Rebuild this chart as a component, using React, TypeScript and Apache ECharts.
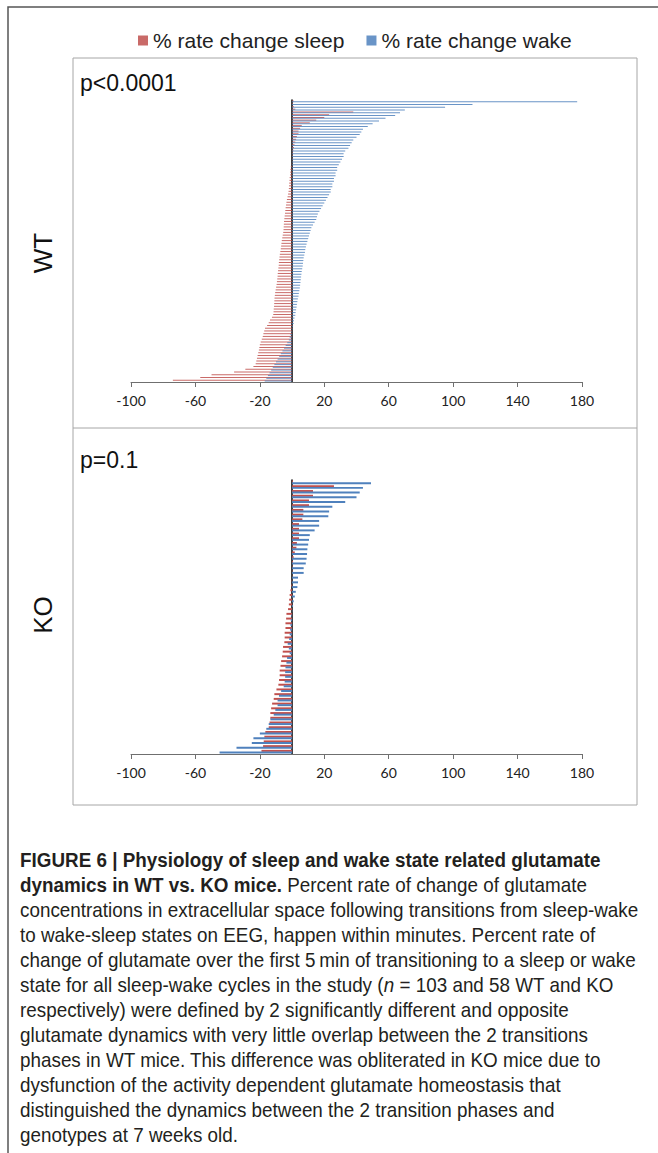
import React, { useEffect, useRef } from "react";
import * as echarts from "echarts";

// ---- data ----
const seriesNames = ["% rate change sleep", "% rate change wake"];
const xTicks = [-100, -60, -20, 20, 60, 100, 140, 180];

const wtSleep = [
  1, 0.5, 1, 2, 38, 23, 20, 15, 11, 6,
  5, 4, 4, 3, 2.5, 2, 1.5, 1.2, 0.8, 0.6,
  0.4, 0.3, 0.2, -0.3, -0.8, -1, -1.2, -1.3, -1.5, -1.6,
  -1.8, -1.9, -2, -2.2, -2.5, -2.8, -3.2, -3.5, -3.8, -4,
  -4.2, -4.4, -4.6, -4.8, -5, -5.1, -5.2, -5.3, -5.5, -5.8,
  -6.1, -6.4, -6.6, -6.8, -7, -7.3, -7.6, -7.8, -8, -8.2,
  -8.3, -8.5, -8.7, -8.9, -9, -9.2, -9.4, -9.6, -9.9, -10.2,
  -10.5, -10.7, -10.9, -11, -11.1, -11.2, -11.4, -11.5, -11.7, -12.5,
  -13.7, -14.5, -15.5, -16.8, -17.3, -17.8, -18.2, -18.8, -19.5, -20,
  -20.3, -20.6, -21, -21.4, -21.8, -22.2, -22.6, -24, -29, -36,
  -50, -57, -74,
];
const wtWake = [
  177, 112, 95, 70, 67, 64, 58, 54, 50, 47,
  44, 43, 42, 40, 38, 37, 36, 35, 33, 32,
  32, 31, 30, 29, 28, 28, 27, 27, 26, 26,
  25, 25, 24, 24, 23, 22, 21, 20, 19, 18,
  17, 16, 15.5, 15, 14, 13, 12, 11.5, 11, 10.5,
  10, 9.5, 9, 8.6, 8.2, 8, 7.6, 7.2, 7, 6.8,
  6.6, 6.3, 6, 5.8, 5.6, 5.4, 5.2, 5, 4.8, 4.5,
  4.2, 4, 3.6, 3.3, 3, 2.8, 2.5, 2.2, 2, 1.5,
  1.2, 1, 0.6, 0.4, -0.5, -1, -1.5, -2, -3, -4,
  -5, -6, -7, -8, -9, -10, -11, -12, -13, -14,
  -15, -16, -17,
];
const koSleep = [
  0.5, 26, 13, 13, 10.5, 10.5, 7, 7, 6.4, 4.3,
  4.3, 4.3, 4.3, 3, 2.7, 1.7, 1, 0.6, 0.3, 0.2,
  0.1, -0.2, -0.5, -1, -1.5, -1.8, -2, -2.5, -3.5, -3.7,
  -4.1, -4.1, -4.6, -4.6, -4.8, -5.6, -5.8, -6.2, -6.8, -7.2,
  -7.7, -7.7, -8.1, -8.5, -9.7, -11, -11.4, -12.4, -13, -13.5,
  -13.5, -14, -14.5, -16.6, -17.2, -17.6, -18, -19,
];
const koWake = [
  49, 44, 42, 40, 33, 25, 23, 22.5, 16.8, 16.8,
  14, 11, 10.5, 10, 9.5, 9.3, 9, 8.5, 7.2, 7.2,
  3.7, 3.7, 3.3, 2.3, 1.7, 1, 0.6, 0.2, -0.5, -0.8,
  -1, -1.2, -1.5, -1.8, -2.7, -2, -1.5, -3.1, -3.5, -4.1,
  -4.3, -4.3, -4.6, -5.2, -6.8, -8.1, -9, -9, -10.4, -11.4,
  -13.5, -14.5, -16, -20, -24, -25, -34.5, -45,
];
const wtCategories = wtSleep.map((_, i) => "WT " + (i + 1));
const koCategories = koSleep.map((_, i) => "KO " + (i + 1));

const panelLabels = ["WT", "KO"];
const pValues = ["p<0.0001", "p=0.1"];

const captionLines: { t: string; s: string }[][] = [
  [{ t: "FIGURE 6 | Physiology of sleep and wake state related glutamate", s: "b" }],
  [
    { t: "dynamics in WT vs. KO mice.", s: "b" },
    { t: " Percent rate of change of glutamate", s: "r" },
  ],
  [{ t: "concentrations in extracellular space following transitions from sleep-wake", s: "r" }],
  [{ t: "to wake-sleep states on EEG, happen within minutes. Percent rate of", s: "r" }],
  [{ t: "change of glutamate over the first 5\u2009min of transitioning to a sleep or wake", s: "r" }],
  [
    { t: "state for all sleep-wake cycles in the study (", s: "r" },
    { t: "n", s: "i" },
    { t: " = 103 and 58 WT and KO", s: "r" },
  ],
  [{ t: "respectively) were defined by 2 significantly different and opposite", s: "r" }],
  [{ t: "glutamate dynamics with very little overlap between the 2 transitions", s: "r" }],
  [{ t: "phases in WT mice. This difference was obliterated in KO mice due to", s: "r" }],
  [{ t: "dysfunction of the activity dependent glutamate homeostasis that", s: "r" }],
  [{ t: "distinguished the dynamics between the 2 transition phases and", s: "r" }],
  [{ t: "genotypes at 7 weeks old.", s: "r" }],
];

const RED = "#C0504D";
const BLUE = "#4F81BD";
const SANS = "'Liberation Sans', Arial, sans-serif";
const TICKFONT = "Lato, 'Liberation Sans', sans-serif";

export default function App() {
  const ref = useRef<HTMLDivElement>(null);

  useEffect(() => {
    if (!ref.current) return;
    const chart = echarts.init(ref.current, null, { renderer: "svg" });

    const xAxisBase = (gridIndex: number) => ({
      type: "value" as const,
      gridIndex,
      min: -100,
      max: 180,
      interval: 40,
      axisLine: { show: true, onZero: false, lineStyle: { color: "#6f6f6f", width: 1 } },
      axisTick: { show: true, length: 5, lineStyle: { color: "#6f6f6f" } },
      splitLine: { show: false },
      axisLabel: {
        fontFamily: TICKFONT,
        fontSize: 14,
        color: "#222",
        margin: 11,
        formatter: (v: number) => (xTicks.includes(v) ? String(v) : ""),
      },
    });
    const yAxisBase = (gridIndex: number, data: string[]) => ({
      type: "category" as const,
      gridIndex,
      inverse: true,
      data,
      axisLine: { show: true, onZero: true, lineStyle: { color: "#000", width: 1.5 } },
      axisTick: { show: false },
      axisLabel: { show: false },
      splitLine: { show: false },
    });
    const barBase = (gap: string) => ({
      type: "bar" as const,
      barGap: "-20%",
      barCategoryGap: gap,
      silent: true,
    });

    const FS = 20.5;
    const captionRich = {
      b: { fontFamily: SANS, fontSize: FS, fontWeight: "bold", fill: "#231f20" },
      r: { fontFamily: SANS, fontSize: FS, fill: "#231f20" },
      i: { fontFamily: SANS, fontSize: FS, fontStyle: "italic", fill: "#231f20" },
    };

    const captionGraphics = captionLines.map((line, k) => ({
      type: "text",
      x: 20,
      y: 860 + 25 * k,
      scaleX: 0.92,
      style: {
        text: line.map((seg) => `{${seg.s}|${seg.t}}`).join(""),
        rich: captionRich,
        fontFamily: SANS,
        fontSize: FS,
        verticalAlign: "middle",
      },
    }));

    chart.setOption({
      animation: false,
      backgroundColor: "#fff",
      legend: {
        data: seriesNames,
        left: 133,
        top: 25,
        icon: "rect",
        itemWidth: 10,
        itemHeight: 10,
        itemGap: 22,
        textStyle: { fontFamily: SANS, fontSize: 21, color: "#222" },
      },
      grid: [
        { left: 131, width: 451, top: 100, height: 282 },
        { left: 131, width: 451, top: 480, height: 274 },
      ],
      xAxis: [xAxisBase(0), xAxisBase(1)],
      yAxis: [yAxisBase(0, wtCategories), yAxisBase(1, koCategories)],
      series: [
        { ...barBase("40%"), name: seriesNames[0], xAxisIndex: 0, yAxisIndex: 0, data: wtSleep, itemStyle: { color: RED, opacity: 0.85 } },
        { ...barBase("40%"), name: seriesNames[1], xAxisIndex: 0, yAxisIndex: 0, data: wtWake, itemStyle: { color: BLUE, opacity: 0.85 } },
        { ...barBase("25%"), name: seriesNames[0], xAxisIndex: 1, yAxisIndex: 1, data: koSleep, itemStyle: { color: RED } },
        { ...barBase("25%"), name: seriesNames[1], xAxisIndex: 1, yAxisIndex: 1, data: koWake, itemStyle: { color: BLUE } },
      ],
      graphic: [
        {
          type: "rect",
          shape: { x: 8, y: 7, width: 700, height: 1200 },
          style: { fill: "none", stroke: "#555", lineWidth: 1.5 },
          silent: true,
        },
        {
          type: "rect",
          shape: { x: 73, y: 58, width: 564, height: 747 },
          style: { fill: "none", stroke: "#a6a6a6", lineWidth: 1 },
          silent: true,
        },
        {
          type: "line",
          shape: { x1: 73, y1: 428, x2: 637, y2: 428 },
          style: { stroke: "#a6a6a6", lineWidth: 1 },
          silent: true,
        },
        {
          type: "text",
          x: 80,
          y: 83,
          style: { text: pValues[0], fontFamily: SANS, fontSize: 23, fill: "#111", verticalAlign: "middle" },
        },
        {
          type: "text",
          x: 80,
          y: 460,
          style: { text: pValues[1], fontFamily: SANS, fontSize: 23, fill: "#111", verticalAlign: "middle" },
        },
        {
          type: "text",
          x: 43,
          y: 253,
          rotation: Math.PI / 2,
          style: { text: panelLabels[0], fontFamily: SANS, fontSize: 26, fill: "#111", align: "center", verticalAlign: "middle" },
        },
        {
          type: "text",
          x: 43,
          y: 615,
          rotation: Math.PI / 2,
          style: { text: panelLabels[1], fontFamily: SANS, fontSize: 26, fill: "#111", align: "center", verticalAlign: "middle" },
        },
        ...captionGraphics,
      ],
    });

    return () => chart.dispose();
  }, []);

  return (
    <div
      ref={ref}
      style={{ position: "absolute", left: 0, top: 0, width: 658, height: 1153 }}
    />
  );
}
